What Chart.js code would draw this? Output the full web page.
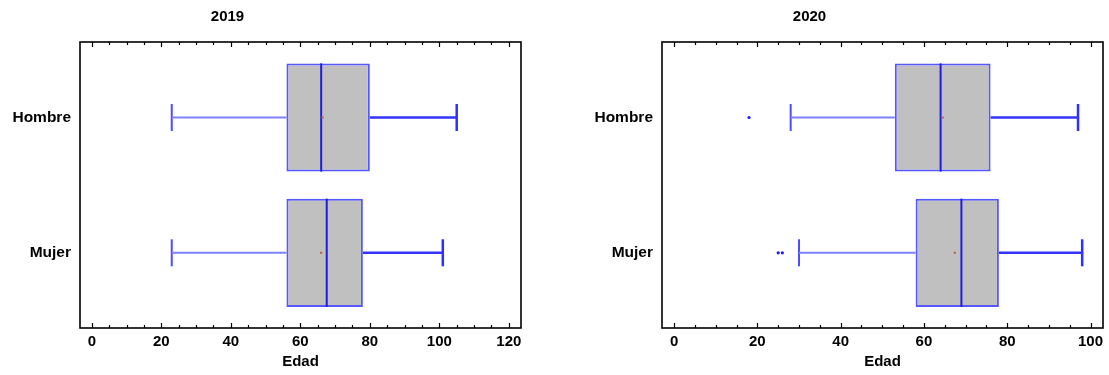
<!DOCTYPE html>
<html><head><meta charset="utf-8">
<script src="https://cdn.jsdelivr.net/npm/chart.js@4.4.1/dist/chart.umd.min.js"></script>
<style>
html,body{margin:0;padding:0;background:#fff;width:1109px;height:375px;overflow:hidden}
#c1{position:absolute;left:0;top:0}
#c2{position:absolute;left:555px;top:0}
</style></head><body>
<canvas id="c1" width="555" height="375"></canvas>
<canvas id="c2" width="554" height="375"></canvas>
<script>
// ---- data ----
const categories = ['Hombre', 'Mujer'];
const axisTitle = 'Edad';
const title2019 = '2019';
const title2020 = '2020';

const q1_2019     = [56, 56];
const median_2019 = [66, 67.6];
const q3_2019     = [80, 78];
const low_2019    = [23, 23];
const high_2019   = [105, 101];
const mean_2019   = [66.4, 66.0];
const out_2019    = [[], []];

const q1_2020     = [53, 58];
const median_2020 = [64, 69];
const q3_2020     = [76, 78];
const low_2020    = [28, 30];
const high_2020   = [97, 98];
const mean_2020   = [64.5, 67.4];
const out_2020    = [[18], [25, 26]];

const xTicks2019 = [0, 20, 40, 60, 80, 100, 120];
const xTicks2020 = [0, 20, 40, 60, 80, 100];
const MINOR_STEP = 5, MAJOR_STEP = 20;

// ---- styling ----
const FONT = 'Arial, "Liberation Sans", Helvetica, sans-serif';
const boldFont = (size) => ({ family: FONT, size: size, weight: 'bold' });

function lineDs(points, color, width) {
  return { type: 'line', data: points, borderColor: color, borderWidth: width,
           pointRadius: 0, fill: false, tension: 0, borderCapStyle: 'butt', order: 1 };
}

function buildDatasets(q1, med, q3, lo, hi, mean, outl) {
  const n = categories.length;
  const yOf = i => n - 1 - i;
  const ds = [];
  ds.push({
    type: 'bar', indexAxis: 'y',
    data: categories.map((c, i) => ({ x: [q1[i], q3[i]], y: yOf(i) })),
    backgroundColor: '#c0c0c0', borderColor: 'rgba(50,50,255,0.82)', borderWidth: 2,
    borderSkipped: false, barPercentage: 0.8, categoryPercentage: 1, order: 10
  });
  categories.forEach((c, i) => {
    const y = yOf(i);
    ds.push(lineDs([{ x: lo[i], y: y }, { x: q1[i], y: y }], '#8080ff', 2));
    ds.push(lineDs([{ x: lo[i], y: y - 0.1 }, { x: lo[i], y: y + 0.1 }], '#4d4dff', 2));
    ds.push(lineDs([{ x: q3[i], y: y }, { x: hi[i], y: y }], '#3434ff', 2.5));
    ds.push(lineDs([{ x: hi[i], y: y - 0.1 }, { x: hi[i], y: y + 0.1 }], '#2f2fff', 2.5));
    ds.push(lineDs([{ x: med[i], y: y - 0.4 }, { x: med[i], y: y + 0.4 }], '#1e1ee0', 2));
  });
  ds.push({ type: 'scatter', data: mean.map((m, i) => ({ x: m, y: yOf(i) })),
            pointStyle: 'rect', pointRadius: 1.5, backgroundColor: '#b8683c', borderWidth: 0, order: 0 });
  ds.push({ type: 'scatter', data: outl.flatMap((arr, i) => arr.map(v => ({ x: v, y: yOf(i) }))),
            pointStyle: 'circle', pointRadius: 1.6, backgroundColor: '#1a1aff', borderWidth: 0, order: 0 });
  return ds;
}

const frameTicks = {
  id: 'frameTicks',
  afterDraw(chart, args, opts) {
    const { ctx, chartArea: { left, right, top, bottom }, scales: { x } } = chart;
    ctx.save();
    ctx.strokeStyle = '#000';
    ctx.lineWidth = 1.6;
    ctx.strokeRect(left, top, right - left, bottom - top);
    ctx.lineWidth = 1.2;
    for (let v = Math.ceil(x.min / MINOR_STEP) * MINOR_STEP; v <= x.max; v += MINOR_STEP) {
      const px = Math.round(x.getPixelForValue(v)) + 0.5;
      const len = (v % MAJOR_STEP === 0) ? 5 : 3;
      ctx.beginPath();
      ctx.moveTo(px, bottom); ctx.lineTo(px, bottom - len);
      ctx.moveTo(px, top); ctx.lineTo(px, top + len);
      ctx.stroke();
    }
    ctx.fillStyle = '#000';
    ctx.font = 'bold 15px ' + FONT;
    ctx.textAlign = 'center';
    ctx.textBaseline = 'middle';
    ctx.fillText(opts.title, (left + right) / 2 - 73, 17);
    ctx.restore();
  }
};

function makeChart(id, cfg) {
  const n = categories.length;
  return new Chart(document.getElementById(id), {
    type: 'bar',
    data: { datasets: buildDatasets(cfg.q1, cfg.med, cfg.q3, cfg.lo, cfg.hi, cfg.mean, cfg.out) },
    plugins: [frameTicks],
    options: {
      responsive: false, animation: false, events: [], devicePixelRatio: 1,
      layout: { padding: { left: 0, right: cfg.padRight, top: 42, bottom: 0 } },
      plugins: { legend: { display: false }, tooltip: { enabled: false }, frameTicks: { title: cfg.title } },
      scales: {
        x: {
          type: 'linear', min: cfg.xmin, max: cfg.xmax, bounds: 'data', offset: false,
          afterBuildTicks: s => { s.ticks = cfg.ticks.map(v => ({ value: v })); },
          afterFit: s => { s.height = 47; },
          ticks: { font: boldFont(15), color: '#000', padding: 5, autoSkip: false, maxRotation: 0 },
          grid: { display: false, drawTicks: false, offset: false },
          border: { display: false },
          title: { display: true, text: axisTitle, font: boldFont(15), color: '#000', padding: { top: 0, bottom: 4 } }
        },
        y: {
          type: 'linear', min: -0.556, max: 1.558, bounds: 'data', offset: false,
          afterBuildTicks: s => { s.ticks = categories.map((c, i) => ({ value: n - 1 - i })).sort((a, b) => a.value - b.value); },
          afterFit: s => { s.width = cfg.yWidth; },
          ticks: { font: boldFont(15.5), color: '#000', padding: 9, autoSkip: false,
                   callback: v => categories[n - 1 - v] },
          grid: { display: false, drawTicks: false, offset: false },
          border: { display: false }
        }
      }
    }
  });
}

makeChart('c1', { title: title2019, q1: q1_2019, med: median_2019, q3: q3_2019, lo: low_2019, hi: high_2019,
  mean: mean_2019, out: out_2019, ticks: xTicks2019, xmin: -3.4, xmax: 123.5, yWidth: 80, padRight: 34 });
makeChart('c2', { title: title2020, q1: q1_2020, med: median_2020, q3: q3_2020, lo: low_2020, hi: high_2020,
  mean: mean_2020, out: out_2020, ticks: xTicks2020, xmin: -2.9, xmax: 103, yWidth: 107, padRight: 6 });
</script>
</body></html>
